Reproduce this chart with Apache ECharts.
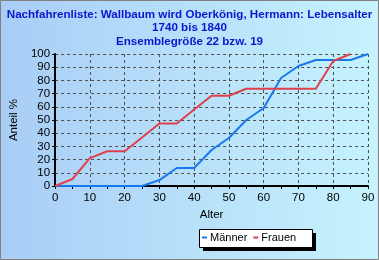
<!DOCTYPE html>
<html><head><meta charset="utf-8">
<script src="https://cdn.jsdelivr.net/npm/echarts@6/dist/echarts.min.js"></script>
<style>html,body{margin:0;padding:0;}#c{width:379px;height:260px;}</style>
</head><body><div id="c"></div>
<script>
const ages = [0,5,10,15,20,25,30,35,40,45,50,55,60,65,70,75,80,85,90];
const maenner = [0,0,0,0,0,0,4.5,13.6,13.6,27.3,36.4,50,59.1,81.8,90.9,95.5,95.5,95.5,100];
const frauen = [0,5.3,21.1,26.3,26.3,36.8,47.4,47.4,57.9,68.4,68.4,73.7,73.7,73.7,73.7,73.7,94.7,100];
const yTicks = [0,10,20,30,40,50,60,70,80,90,100];
const xTicks = [0,10,20,30,40,50,60,70,80,90];
const titleLines = ['Nachfahrenliste: Wallbaum wird Oberkönig, Hermann: Lebensalter','1740 bis 1840','Ensemblegröße 22 bzw. 19'];

const chart = echarts.init(document.getElementById('c'), null, {renderer:'canvas'});
const ff = 'Liberation Sans';
chart.setOption({
  animation:false,
  backgroundColor: new echarts.graphic.LinearGradient(0,0,1,0,[{offset:0,color:'#a9cdf6'},{offset:1,color:'#c6f3fd'}]),
  title:{text:titleLines.join('\n'), left:'center', top:8, padding:0, textStyle:{fontFamily:ff, fontSize:11.6, fontWeight:'bold', color:'#0c16d0', lineHeight:13.5}},
  grid:{left:52,right:11,top:54,bottom:74},
  graphic:[
    {type:'rect', z:0, shape:{x:0.5,y:0.5,width:378,height:259}, style:{fill:'none', stroke:'#808080', lineWidth:1}, silent:true},
    {type:'rect', z:0, shape:{x:203,y:233,width:113,height:18}, style:{fill:'#000'}, silent:true},
    {type:'rect', z:1, shape:{x:199.5,y:229.5,width:113,height:18}, style:{fill:'#fff', stroke:'#000', lineWidth:1}, silent:true}
  ],
  legend:{data:['Männer','Frauen'], left:202, top:232, orient:'horizontal', icon:'rect', itemWidth:5, itemHeight:2, itemGap:6, padding:0, z:5,
    textStyle:{fontFamily:ff, fontSize:11, color:'#000', padding:[0,0,0,-2]}},
  xAxis:{type:'value', min:0, max:90, interval:10, name:'Alter', nameLocation:'middle', nameGap:21,
    nameTextStyle:{fontFamily:ff, fontSize:11.5, color:'#000'},
    axisLine:{lineStyle:{color:'#000', width:2}}, axisTick:{show:true, length:3, lineStyle:{color:'#000'}},
    minorTick:{show:true, splitNumber:2, length:3, lineStyle:{color:'#000'}},
    axisLabel:{fontFamily:ff, fontSize:11.5, color:'#000', margin:6},
    splitLine:{show:true, lineStyle:{color:'#505050', type:[3,3], width:1}}},
  yAxis:{type:'value', min:0, max:100, interval:10, name:'Anteil %', nameLocation:'middle', nameGap:25, nameRotate:90,
    nameTextStyle:{fontFamily:ff, fontSize:11.5, color:'#000'},
    axisLine:{show:true, lineStyle:{color:'#000', width:2}}, axisTick:{show:true, length:3, lineStyle:{color:'#000'}},
    axisLabel:{fontFamily:ff, fontSize:11.5, color:'#000', margin:5},
    splitLine:{show:true, lineStyle:{color:'#505050', type:[3,3], width:1}}},
  series:[
    {name:'Männer', type:'line', data:ages.map((a,i)=>[a,maenner[i]]), symbol:'none', lineStyle:{color:'#1a78ee', width:2}, itemStyle:{color:'#1a78ee'}},
    {name:'Frauen', type:'line', data:frauen.map((v,i)=>[ages[i],v]), symbol:'none', lineStyle:{color:'#e0404c', width:2}, itemStyle:{color:'#e0404c'}}
  ]
});
</script></body></html>
